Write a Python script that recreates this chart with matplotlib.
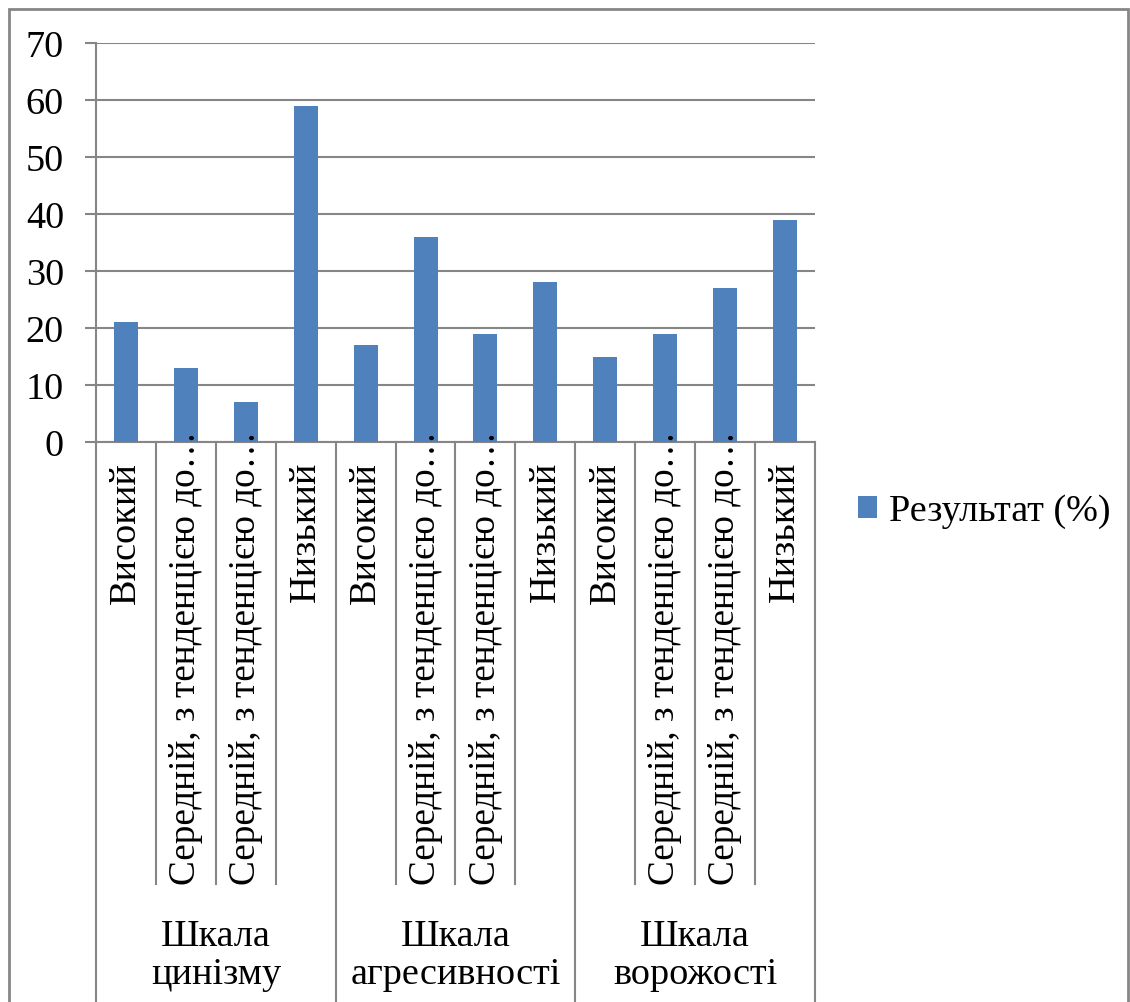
import matplotlib
matplotlib.use("Agg")
import matplotlib.pyplot as plt
import matplotlib.transforms as mtransforms
from matplotlib.patches import Rectangle

plt.rcParams['font.family'] = ['Liberation Serif', 'DejaVu Serif']

categories = ["Високий", "Середній, з тенденцією до…", "Середній, з тенденцією до…", "Низький",
              "Високий", "Середній, з тенденцією до…", "Середній, з тенденцією до…", "Низький",
              "Високий", "Середній, з тенденцією до…", "Середній, з тенденцією до…", "Низький"]
groups = ["Шкала\nцинізму", "Шкала\nагресивності", "Шкала\nворожості"]
values = [21, 13, 7, 59, 17, 36, 19, 28, 15, 19, 27, 39]
series_name = "Результат (%)"
yticks = [0, 10, 20, 30, 40, 50, 60, 70]

W, H = 1130, 1003
fig = plt.figure(figsize=(W / 100, H / 100), dpi=100)
fig.patch.set_facecolor("white")

def fx(px):
    return px / W

def fy(py):
    return 1 - py / H

FS = 27.5
ax = fig.add_axes([fx(96), fy(443), fx(815) - fx(96), fy(44) - fy(443)])
grid_c = "#868686"
bar_c = "#4F81BD"

x = list(range(len(values)))
bars = ax.bar(x, values, width=0.4, color=bar_c, zorder=3, label=series_name)
ax.set_xlim(-0.5, len(values) - 0.5)
ax.set_ylim(0, 70)
ax.set_yticks(yticks)
ax.set_yticklabels([str(t) for t in yticks], fontsize=FS)
ax.yaxis.grid(True, color=grid_c, linewidth=1.5, zorder=0)
ax.tick_params(axis='y', length=8, width=1.5, color=grid_c, pad=15)
ax.set_xticks([])
for s in ["top", "right"]:
    ax.spines[s].set_visible(False)
ax.spines["left"].set_color(grid_c)
ax.spines["left"].set_linewidth(1.5)
ax.spines["bottom"].set_color(grid_c)
ax.spines["bottom"].set_linewidth(1.5)

# separators under the axis
tr = mtransforms.blended_transform_factory(ax.transData, fig.transFigure)
for i in range(len(values) + 1):
    xb = i - 0.5
    if i % 4 == 0:
        ax.plot([xb, xb], [fy(443), -0.01], transform=tr, color=grid_c, lw=1.5, clip_on=False)
    else:
        ax.plot([xb, xb], [fy(443), fy(885)], transform=tr, color=grid_c, lw=1.5, clip_on=False)

# category labels
for i, lab in enumerate(categories):
    if lab.startswith("Середній"):
        ytop = fy(431)
        fs = 26.8
    else:
        ytop = fy(462)
        fs = FS
    ax.text(i, ytop, lab, transform=tr, rotation=90, ha="center", va="top",
            fontsize=fs, rotation_mode="default")

# group labels
for g, lab in enumerate(groups):
    ax.text(g * 4 + 1.5, fy(956), lab, transform=tr, ha="center", va="center",
            fontsize=FS, linespacing=1.12)

# legend
fig.legend(handles=[bars], labels=[series_name], loc="center left",
           bbox_to_anchor=(fx(858), fy(512)), frameon=False, fontsize=FS,
           handlelength=0.5, handleheight=0.5, handletextpad=0.3,
           borderpad=0, borderaxespad=0)

# outer border
fig.patches.append(Rectangle((fx(9), -0.02), fx(1128) - fx(9), fy(10) + 0.02,
                             transform=fig.transFigure, fill=False,
                             edgecolor=grid_c, linewidth=2))

fig.savefig("out.png", dpi=100)
